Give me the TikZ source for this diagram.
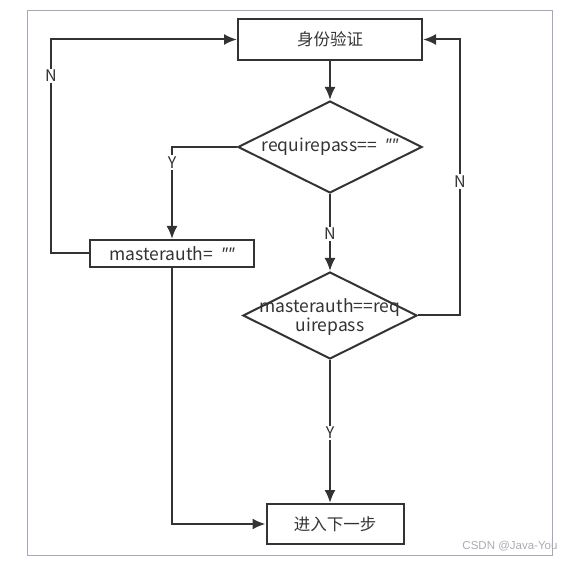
\documentclass[tikz,border=0pt]{standalone}
\usepackage{fontspec}
\setmainfont{Noto Sans CJK SC}
\newfontfamily\wmfont{Liberation Sans}
\newfontfamily\quotefont{Noto Sans}
\usetikzlibrary{shapes.geometric, arrows.meta}

\definecolor{linec}{HTML}{333333}
\definecolor{framec}{HTML}{A3A9BA}

\newcommand{\emptyq}{{\quotefont\itshape ""}}

\tikzset{
  box/.style={draw=linec, line width=2pt, inner sep=0pt, text=linec,
    font=\fontsize{16.5}{19}\selectfont},
  dec/.style={draw=linec, diamond, line width=2pt, inner sep=0pt},
  dectext/.style={text=linec, align=center, font=\fontsize{17.5}{19}\selectfont},
  flow/.style={draw=linec, line width=2pt, -{Latex[length=13pt,width=11pt]}},
  yn/.style={fill=white, inner sep=1.5pt, text=linec, font=\fontsize{16}{16}\selectfont},
}

\begin{document}
\begin{tikzpicture}[x=1pt, y=-1pt]
  \useasboundingbox (0,0) rectangle (576,561);
  \draw[framec, line width=1pt] (27.5,11) rectangle (552.5,555.5);

  % boxes and decisions
  \node[box, minimum width=184pt, minimum height=41pt]   (auth) at (330,39.5) {身份验证};
  \node[dec, minimum width=184pt, minimum height=92pt]   (d1)   at (330,147) {};
  \node[dectext]                                          (t1)   at (d1) {requirepass==\ \ \emptyq};
  \node[box, minimum width=164pt, minimum height=27pt, font=\fontsize{17.5}{19}\selectfont]
                                                          (ma)   at (172,253.5) {masterauth=\ \ \emptyq};
  \node[dec, minimum width=174pt, minimum height=87pt]   (d2)   at (330,315.5) {};
  \node[dectext]                                          (t2)   at ([yshift=-2pt]d2) {masterauth==req\\uirepass};
  \node[box, minimum width=137pt, minimum height=40pt]   (next) at (335,524) {进入下一步};

  % connectors
  \draw[flow] (auth) -- (d1);
  \draw[flow] (d1.west) -| (ma.north) node[yn, pos=0.586] {Y};
  \draw[flow] (d1.south) -- (d2.north) node[yn, pos=0.52] {N};
  \draw[flow] (ma.west) -- ++(-38,0) |- (auth.west) node[yn, pos=0.415] {N};
  \draw[flow] (d2.east) -- ++(42,0) |- (auth.east) node[yn, pos=0.2425] {N};
  \draw[flow] (d2.south) -- (d2.south |- next.north) node[yn, pos=0.51] {Y};
  \draw[flow] (ma.south) |- (next.west);

  \node[anchor=east, text=gray!65, font=\wmfont\fontsize{11.5}{11.5}\selectfont] (wm) at (561,546) {CSDN @Java-You};
\end{tikzpicture}
\end{document}
